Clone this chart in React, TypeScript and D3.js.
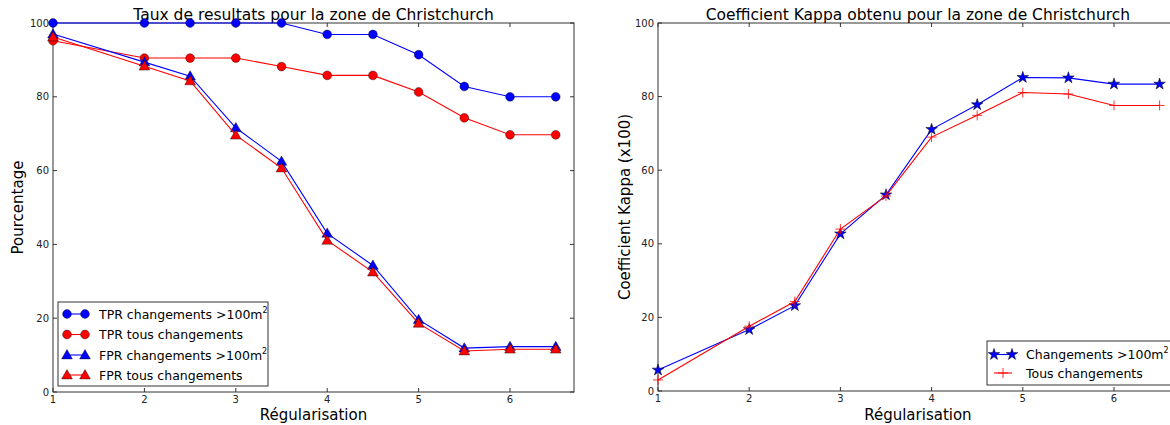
import React from "react";
import * as d3 from "d3";

const regX = [1, 2, 2.5, 3, 3.5, 4, 4.5, 5, 5.5, 6, 6.5];
const tprBig = [100, 100, 100, 100, 100, 96.9, 96.9, 91.4, 82.8, 80.0, 80.0];
const tprAll = [95.2, 90.5, 90.5, 90.5, 88.2, 85.8, 85.8, 81.3, 74.3, 69.7, 69.7];
const fprBig = [97.0, 89.4, 85.6, 71.6, 62.5, 43.0, 34.3, 19.6, 11.9, 12.3, 12.3];
const fprAll = [96.2, 88.3, 84.3, 69.6, 60.7, 41.1, 32.5, 18.6, 11.1, 11.6, 11.6];
const kappaBig = [5.7, 16.7, 23.2, 42.7, 53.3, 71.1, 77.8, 85.2, 85.1, 83.4, 83.4];
const kappaAll = [3.0, 17.6, 24.3, 44.0, 53.0, 69.0, 74.9, 81.1, 80.7, 77.6, 77.6];
const xTicks = [1, 2, 3, 4, 5, 6];
const yTicks = [0, 20, 40, 60, 80, 100];

const FONT = "DejaVu Sans, sans-serif";
const SPINE = "#333";

type Panel = { x0: number; x1: number; y0: number; y1: number };

function Axes({ p, title, ylabel, ylabelX }: { p: Panel; title: string; ylabel: string; ylabelX: number }) {
  const x = d3.scaleLinear().domain([1, 6.7]).range([p.x0, p.x1]);
  const y = d3.scaleLinear().domain([0, 100]).range([p.y1, p.y0]);
  const cy = (p.y0 + p.y1) / 2;
  return (
    <g>
      <rect x={p.x0} y={p.y0} width={p.x1 - p.x0} height={p.y1 - p.y0} fill="none" stroke={SPINE} strokeWidth={1} />
      {xTicks.map((t) => (
        <g key={"x" + t}>
          <line x1={x(t)} x2={x(t)} y1={p.y1} y2={p.y1 - 4} stroke={SPINE} />
          <line x1={x(t)} x2={x(t)} y1={p.y0} y2={p.y0 + 4} stroke={SPINE} />
          <text x={x(t)} y={p.y1 + 11} fontSize={10} textAnchor="middle" fill="#222" fontFamily={FONT}>
            {t}
          </text>
        </g>
      ))}
      {yTicks.map((t) => (
        <g key={"y" + t}>
          <line x1={p.x0} x2={p.x0 + 4} y1={y(t)} y2={y(t)} stroke={SPINE} />
          <line x1={p.x1} x2={p.x1 - 4} y1={y(t)} y2={y(t)} stroke={SPINE} />
          <text x={p.x0 - 4} y={y(t) + 3.5} fontSize={10} textAnchor="end" fill="#222" fontFamily={FONT}>
            {t}
          </text>
        </g>
      ))}
      <text x={(p.x0 + p.x1) / 2} y={20} fontSize={15.5} textAnchor="middle" fontFamily={FONT} fill="#000">
        {title}
      </text>
      <text x={(p.x0 + p.x1) / 2} y={420} fontSize={15} textAnchor="middle" fontFamily={FONT} fill="#000">
        Régularisation
      </text>
      <text
        transform={`translate(${ylabelX},${cy}) rotate(-90)`}
        fontSize={15}
        textAnchor="middle"
        fontFamily={FONT}
        fill="#000"
      >
        {ylabel}
      </text>
    </g>
  );
}

function Marker({ kind, cx, cy, color }: { kind: string; cx: number; cy: number; color: string }) {
  if (kind === "circle") return <circle cx={cx} cy={cy} r={4.4} fill={color} stroke="#000" strokeWidth={0.4} />;
  if (kind === "triangle") {
    const d = d3.symbol(d3.symbolTriangle, 50)()!;
    return <path d={d} transform={`translate(${cx},${cy + 0.8})`} fill={color} stroke="#000" strokeWidth={0.4} />;
  }
  if (kind === "star") {
    const d = d3.symbol(d3.symbolStar, 42)()!;
    return <path d={d} transform={`translate(${cx},${cy})`} fill={color} stroke="#000" strokeWidth={0.5} />;
  }
  return (
    <g stroke={color} strokeWidth={0.8}>
      <line x1={cx - 5} x2={cx + 5} y1={cy} y2={cy} />
      <line x1={cx} x2={cx} y1={cy - 5} y2={cy + 5} />
    </g>
  );
}

function Series({ p, vals, color, kind }: { p: Panel; vals: number[]; color: string; kind: string }) {
  const x = d3.scaleLinear().domain([1, 6.7]).range([p.x0, p.x1]);
  const y = d3.scaleLinear().domain([0, 100]).range([p.y1, p.y0]);
  const line = d3
    .line<number>()
    .x((_, i) => x(regX[i]))
    .y((v) => y(v));
  return (
    <g>
      <path d={line(vals)!} fill="none" stroke={color} strokeWidth={1.1} />
      {vals.map((v, i) => (
        <Marker key={i} kind={kind} cx={x(regX[i])} cy={y(v)} color={color} />
      ))}
    </g>
  );
}

function LegendRow({ x, y, color, kind, label, sup }: { x: number; y: number; color: string; kind: string; label: string; sup?: boolean }) {
  return (
    <g>
      <line x1={x} x2={x + 18} y1={y} y2={y} stroke={color} strokeWidth={1.1} />
      {kind !== "plus" ? (
        <>
          <Marker kind={kind} cx={x} cy={y} color={color} />
          <Marker kind={kind} cx={x + 18} cy={y} color={color} />
        </>
      ) : (
        <Marker kind={kind} cx={x + 9} cy={y} color={color} />
      )}
      <text x={x + 32} y={y + 4.5} fontSize={12.5} fontFamily={FONT} fill="#000">
        {label}
        {sup ? (
          <tspan dy={-6} fontSize={8}>
            2
          </tspan>
        ) : null}
      </text>
    </g>
  );
}

export default function App() {
  const left: Panel = { x0: 53, x1: 574, y0: 23, y1: 392 };
  const right: Panel = { x0: 658, x1: 658 + 5.7 * 91.2, y0: 23, y1: 391 };
  return (
    <svg width={1170} height={425} style={{ position: "absolute", left: 0, top: 0, background: "#fff" }}>
      <rect width={1170} height={425} fill="#fff" />
      <Axes p={left} title="Taux de resultats pour la zone de Christchurch" ylabel="Pourcentage" ylabelX={23} />
      <Series p={left} vals={tprBig} color="#0000ff" kind="circle" />
      <Series p={left} vals={tprAll} color="#ff0000" kind="circle" />
      <Series p={left} vals={fprBig} color="#0000ff" kind="triangle" />
      <Series p={left} vals={fprAll} color="#ff0000" kind="triangle" />
      <rect x={58} y={302} width={210} height={84} fill="#fff" stroke={SPINE} strokeWidth={1} />
      <LegendRow x={67} y={314} color="#0000ff" kind="circle" label="TPR changements >100m" sup />
      <LegendRow x={67} y={334.5} color="#ff0000" kind="circle" label="TPR tous changements" />
      <LegendRow x={67} y={355} color="#0000ff" kind="triangle" label="FPR changements >100m" sup />
      <LegendRow x={67} y={375} color="#ff0000" kind="triangle" label="FPR tous changements" />

      <g>
        <Axes p={right} title="Coefficient Kappa obtenu pour la zone de Christchurch" ylabel="Coefficient Kappa (x100)" ylabelX={630} />
        <Series p={right} vals={kappaBig} color="#0000ff" kind="star" />
        <Series p={right} vals={kappaAll} color="#ff0000" kind="plus" />
        <rect x={987} y={341} width={200} height={44} fill="#fff" stroke={SPINE} strokeWidth={1} />
        <LegendRow x={994} y={354.5} color="#0000ff" kind="star" label="Changements >100m" sup />
        <LegendRow x={994} y={373} color="#ff0000" kind="plus" label="Tous changements" />
      </g>
    </svg>
  );
}
